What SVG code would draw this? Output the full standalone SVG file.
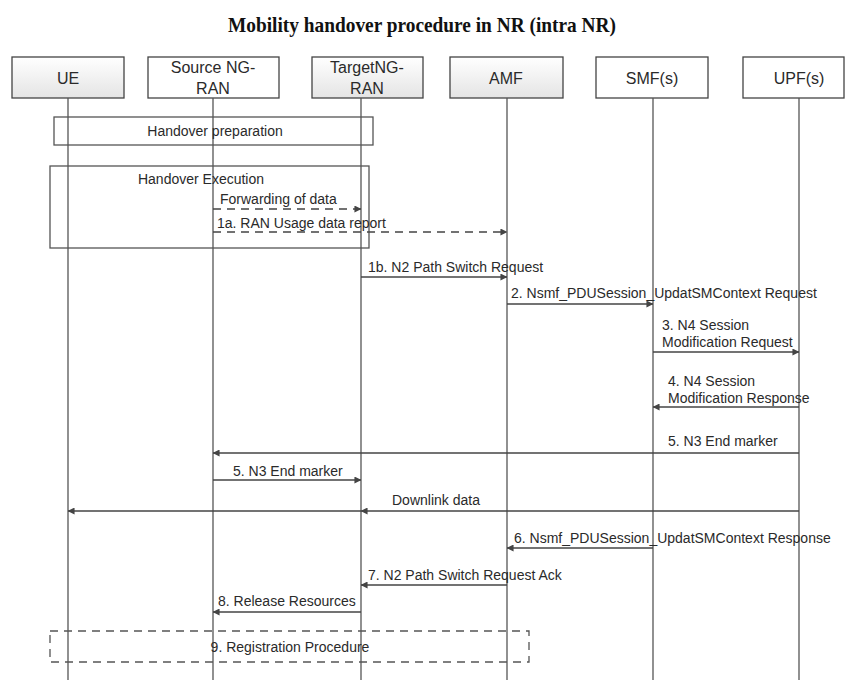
<svg xmlns="http://www.w3.org/2000/svg" width="845" height="680" viewBox="0 0 845 680">
<defs>
<linearGradient id="g" x1="0" y1="0" x2="0" y2="1">
<stop offset="0" stop-color="#ffffff"/>
<stop offset="1" stop-color="#e4e4e4"/>
</linearGradient>
<marker id="ah" viewBox="0 0 8 8" refX="7.5" refY="4" markerWidth="7" markerHeight="7" markerUnits="userSpaceOnUse" orient="auto">
<path d="M0,0 L8,4 L0,8 z" fill="#444"/>
</marker>
<style>
.box{stroke:#444;stroke-width:1.3}
.life{stroke:#555;stroke-width:1.3}
.t{font-family:"Liberation Sans",Arial,sans-serif;font-size:14px;fill:#2a2a2a}
.bt{font-family:"Liberation Sans",Arial,sans-serif;font-size:16px;fill:#2a2a2a;text-anchor:middle}
.msg{stroke:#444;stroke-width:1.3;fill:none;marker-end:url(#ah)}
.dash{stroke-dasharray:8,6}
.frame{fill:none;stroke:#555;stroke-width:1.3}
</style>
</defs>
<rect width="845" height="680" fill="#fff"/>
<text x="422" y="32" text-anchor="middle" font-family="Liberation Serif,'Times New Roman',serif" font-weight="bold" font-size="21" fill="#111" textLength="388" lengthAdjust="spacingAndGlyphs">Mobility handover procedure in NR (intra NR)</text>

<g id="ue">
<rect class="box" x="12" y="57" width="112" height="41" fill="url(#g)"/>
<line class="life" x1="68" y1="98" x2="68" y2="680"/>
<text class="bt" x="68" y="84">UE</text>
</g>
<g id="source">
<rect class="box" x="148" y="57" width="131" height="41" fill="#fff"/>
<line class="life" x1="213" y1="98" x2="213" y2="680"/>
<text class="bt" x="213" y="73">Source NG-</text>
<text class="bt" x="213" y="94">RAN</text>
</g>
<g id="target">
<rect class="box" x="312" y="57" width="111" height="41" fill="url(#g)"/>
<line class="life" x1="361" y1="98" x2="361" y2="680"/>
<text class="bt" x="367" y="73">TargetNG-</text>
<text class="bt" x="367" y="94">RAN</text>
</g>
<g id="amf">
<rect class="box" x="450" y="57" width="113" height="41" fill="url(#g)"/>
<line class="life" x1="507" y1="98" x2="507" y2="680"/>
<text class="bt" x="506" y="84">AMF</text>
</g>
<g id="smf">
<rect class="box" x="596" y="57" width="112" height="41" fill="#fff"/>
<line class="life" x1="653" y1="98" x2="653" y2="680"/>
<text class="bt" x="652" y="84">SMF(s)</text>
</g>
<g id="upf">
<rect class="box" x="743" y="57" width="101" height="41" fill="#fff"/>
<line class="life" x1="799" y1="98" x2="799" y2="680"/>
<text class="bt" x="799" y="84">UPF(s)</text>
</g>

<g id="frames">
<rect class="frame" x="54" y="117" width="319" height="28"/>
<text class="t" x="215" y="136" text-anchor="middle">Handover preparation</text>
<rect class="frame" x="50" y="166" width="319" height="82"/>
<text class="t" x="201" y="184" text-anchor="middle">Handover Execution</text>
<rect class="frame dash" x="50" y="631" width="479" height="31"/>
<text class="t" x="290" y="652" text-anchor="middle">9. Registration Procedure</text>
</g>

<g id="connectors">
<line class="msg dash" x1="213" y1="209" x2="361" y2="209"/>
<text class="t" x="220" y="204">Forwarding of data</text>
<line class="msg dash" x1="213" y1="232" x2="507" y2="232"/>
<text class="t" x="217" y="228">1a. RAN Usage data report</text>

<line class="msg" x1="361" y1="277" x2="507" y2="277"/>
<text class="t" x="368" y="272">1b. N2 Path Switch Request</text>

<line class="msg" x1="507" y1="304" x2="653" y2="304"/>
<text class="t" x="511" y="298">2. Nsmf_PDUSession_UpdatSMContext Request</text>

<line class="msg" x1="653" y1="352" x2="799" y2="352"/>
<text class="t" x="662" y="330">3. N4 Session</text>
<text class="t" x="662" y="347">Modification Request</text>

<line class="msg" x1="799" y1="407" x2="653" y2="407"/>
<text class="t" x="668" y="386">4. N4 Session</text>
<text class="t" x="668" y="403">Modification Response</text>

<line class="msg" x1="799" y1="453" x2="213" y2="453"/>
<text class="t" x="668" y="446">5. N3 End marker</text>

<line class="msg" x1="213" y1="480" x2="361" y2="480"/>
<text class="t" x="233" y="476">5. N3 End marker</text>

<line class="msg" x1="799" y1="511" x2="361" y2="511"/>
<line class="msg" x1="361" y1="511" x2="68" y2="511"/>
<text class="t" x="392" y="505">Downlink data</text>

<line class="msg" x1="653" y1="548" x2="507" y2="548"/>
<text class="t" x="514" y="543">6. Nsmf_PDUSession_UpdatSMContext Response</text>

<line class="msg" x1="507" y1="585" x2="361" y2="585"/>
<text class="t" x="368" y="580">7. N2 Path Switch Request Ack</text>

<line class="msg" x1="361" y1="612" x2="213" y2="612"/>
<text class="t" x="218" y="606">8. Release Resources</text>
</g>
</svg>
